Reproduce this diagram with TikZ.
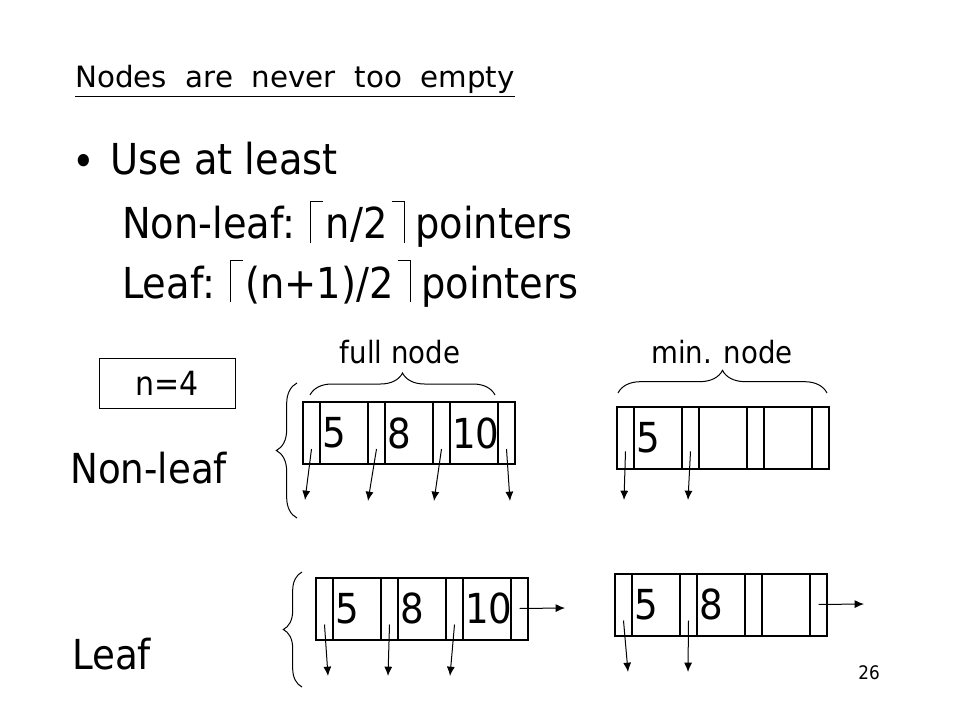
\documentclass[tikz,border=0pt]{standalone}
\usepackage{fontspec}
\setmainfont{DejaVu Sans Condensed}
\newfontfamily\titlefont{DejaVu Sans}
\usepackage{tikz}
\usetikzlibrary{positioning,arrows.meta,decorations.pathreplacing}

\tikzset{
  pcell/.style={draw, line width=1.5pt, outer sep=0pt, inner sep=0pt, minimum width=12.75pt, minimum height=46.5pt},
  kcell/.style={draw, line width=1.5pt, outer sep=0pt, inner xsep=1.5pt, inner ysep=0pt, text width=33pt, align=left, minimum height=46.5pt, font=\fontsize{31}{31}\selectfont},
  ptr/.style={-{Latex[length=7pt,width=6pt]}, line width=0.75pt},
  brc/.style={decorate, decoration={brace, amplitude=#1}, line width=0.75pt},
  txt/.style={inner sep=0pt, anchor=base west},
  big/.style={font=\fontsize{32}{36}\selectfont},
  huge/.style={font=\fontsize{31}{36}\selectfont}
}
\newcommand{\lcl}{\hspace{11pt}\rule[-3pt]{0.9pt}{31.5pt}\rule[27.6pt]{9pt}{0.9pt}\hspace{2pt}}
\newcommand{\rcl}{\hspace{3pt}\rule[27.6pt]{9pt}{0.9pt}\rule[-3pt]{0.9pt}{31.5pt}\hspace{8pt}}

\begin{document}
\begin{tikzpicture}[x=0.75pt, y=-0.75pt]
	\useasboundingbox[fill=white] (0,0) rectangle (960,720);

	\node[txt, font=\titlefont\fontsize{22}{24}\selectfont] (title) at (75,88) {\spaceskip=14pt\relax\underline{Nodes are never too empty}};
	\node[inner sep=0pt, big] (bullet) at (84,165) {\textbullet};
	\node[txt, big] (use) at (110,175) {Use at least};
	\node[txt, big] (nlrule) at (122,239) {Non-leaf:\lcl n/2\rcl pointers};
	\node[txt, big] (lfrule) at (122,298) {Leaf:\lcl (n+1)/2\rcl pointers};

	\node[draw, line width=0.75pt, minimum width=102pt, minimum height=37.5pt, font=\fontsize{25}{25}\selectfont] (nval) at (167,383) {n=4};
	\node[txt, huge] (nonleaf) at (70,483) {Non-leaf};
	\node[txt, huge] (leaf) at (72,669) {Leaf};
	\node[font=\fontsize{23}{23}\selectfont] (fulllbl) at (400,352) {full node};
	\node[font=\fontsize{23}{23}\selectfont] (minlbl) at (722,352) {min. node};
	\node[font=\fontsize{14}{14}\selectfont] (page) at (869,673) {26};

	\node[pcell] (a0) at (311.5,433) {};
	\node[kcell, right=0pt of a0] (a1) {5};
	\node[pcell, right=0pt of a1] (a2) {};
	\node[kcell, right=0pt of a2] (a3) {8};
	\node[pcell, right=0pt of a3] (a4) {};
	\node[kcell, right=0pt of a4] (a5) {10};
	\node[pcell, right=0pt of a5] (a6) {};

	\node[pcell] (b0) at (625.5,438) {};
	\node[kcell, right=0pt of b0] (b1) {5};
	\node[pcell, right=0pt of b1] (b2) {};
	\node[kcell, right=0pt of b2] (b3) {};
	\node[pcell, right=0pt of b3] (b4) {};
	\node[kcell, right=0pt of b4] (b5) {};
	\node[pcell, right=0pt of b5] (b6) {};

	\node[pcell] (c0) at (324.5,608.5) {};
	\node[kcell, right=0pt of c0] (c1) {5};
	\node[pcell, right=0pt of c1] (c2) {};
	\node[kcell, right=0pt of c2] (c3) {8};
	\node[pcell, right=0pt of c3] (c4) {};
	\node[kcell, right=0pt of c4] (c5) {10};
	\node[pcell, right=0pt of c5] (c6) {};

	\node[pcell] (d0) at (623.5,604.5) {};
	\node[kcell, right=0pt of d0] (d1) {5};
	\node[pcell, right=0pt of d1] (d2) {};
	\node[kcell, right=0pt of d2] (d3) {8};
	\node[pcell, right=0pt of d3] (d4) {};
	\node[kcell, right=0pt of d4] (d5) {};
	\node[pcell, right=0pt of d5] (d6) {};

	\coordinate (a0e) at (305,500);
	\coordinate (a2e) at (368,501);
	\coordinate (a4e) at (434,501);
	\coordinate (a6e) at (510,501);
	\coordinate (b0e) at (624,500);
	\coordinate (b2e) at (688,500);
	\coordinate (c0e) at (328,676);
	\coordinate (c2e) at (388,676);
	\coordinate (c4e) at (450,676);
	\coordinate (c6e) at (565,608);
	\coordinate (d0e) at (628,672);
	\coordinate (d2e) at (688,672);
	\coordinate (d6e) at (864,604);

	\draw[ptr] ([yshift=-12pt]a0.center) -- (a0e);
	\draw[ptr] ([yshift=-12pt]a2.center) -- (a2e);
	\draw[ptr] ([yshift=-12pt]a4.center) -- (a4e);
	\draw[ptr] ([yshift=-12pt]a6.center) -- (a6e);
	\draw[ptr] ([yshift=-10pt]b0.center) -- (b0e);
	\draw[ptr] ([yshift=-10pt]b2.center) -- (b2e);
	\draw[ptr] ([yshift=-12pt]c0.center) -- (c0e);
	\draw[ptr] ([yshift=-12pt]c2.center) -- (c2e);
	\draw[ptr] ([yshift=-12pt]c4.center) -- (c4e);
	\draw[ptr] (c6.center) -- (c6e);
	\draw[ptr] ([yshift=-12pt]d0.center) -- (d0e);
	\draw[ptr] ([yshift=-12pt]d2.center) -- (d2e);
	\draw[ptr] (d6.center) -- (d6e);

	\draw[brc=16.5pt] (310,395) -- (495,395);
	\draw[brc=17pt] (618,393) -- (827,393);
	\draw[brc=15.5pt] (297,518) -- (297,383);
	\draw[brc=14pt] (302,687) -- (302,572);
\end{tikzpicture}
\end{document}
